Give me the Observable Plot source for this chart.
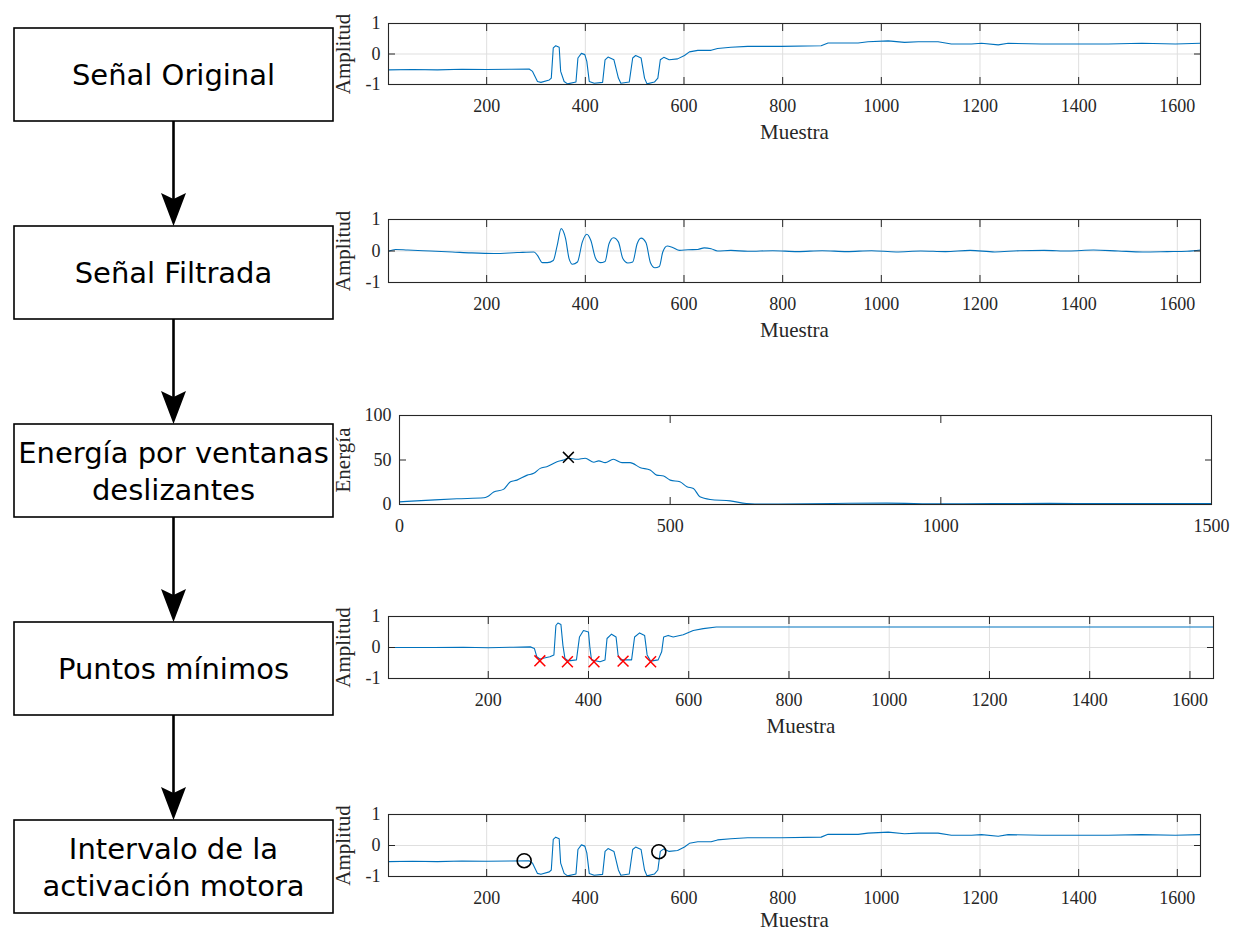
<!DOCTYPE html>
<html>
<head>
<meta charset="utf-8">
<script src="https://cdn.jsdelivr.net/npm/d3@7"></script>
<script src="https://cdn.jsdelivr.net/npm/@observablehq/plot@0.6"></script>
<style>
  body { margin: 0; background: #fff; }
  #root { position: relative; width: 1239px; height: 932px; overflow: hidden; background: #fff; }
  .chart { position: absolute; left: 330px; }
  #flow { position: absolute; left: 0; top: 0; }
</style>
</head>
<body>
<div id="root"></div>
<script>
// ---------- data ----------
const stepLabels = [
  ["Señal Original"],
  ["Señal Filtrada"],
  ["Energía por ventanas", "deslizantes"],
  ["Puntos mínimos"],
  ["Intervalo de la", "activación motora"]
];
const sampleTicks = [200, 400, 600, 800, 1000, 1200, 1400, 1600];
const amplitudeTicks = [-1, 0, 1];
const energyXTicks = [0, 500, 1000, 1500];
const energyYTicks = [0, 50, 100];

// [muestra, amplitud]
const originalSignal = [
  [1,-0.52],[50,-0.51],[100,-0.52],[150,-0.5],[200,-0.51],[250,-0.5],[286,-0.49],[293,-0.57],
  [303,-0.9],[310,-0.93],[327,-0.85],[331,-0.79],[335,0.2],[340,0.27],[347,0.22],[350,-0.57],
  [357,-0.9],[364,-0.98],[381,-0.92],[385,-0.13],[392,0.02],[399,-0.02],[403,-0.24],[408,-0.9],
  [418,-0.96],[435,-0.93],[440,-0.19],[446,-0.1],[458,-0.19],[467,-0.79],[472,-0.96],[489,-0.92],
  [496,-0.13],[502,-0.05],[513,-0.13],[520,-0.79],[525,-0.98],[540,-0.92],[547,-0.79],[552,-0.19],
  [559,-0.11],[570,-0.19],[587,-0.16],[601,-0.05],[611,0.07],[628,0.12],[655,0.12],[668,0.18],
  [695,0.22],[729,0.25],[797,0.25],[878,0.27],[892,0.36],[953,0.36],[973,0.4],[1014,0.43],
  [1047,0.38],[1075,0.4],[1115,0.4],[1142,0.33],[1183,0.33],[1203,0.35],[1237,0.3],[1257,0.35],
  [1325,0.33],[1392,0.33],[1460,0.33],[1528,0.35],[1596,0.33],[1647,0.35]
];

const filteredSignal = [
  [2,0],[15,0.05],[40,0.03],[86,0],[130,-0.03],[168,-0.06],[215,-0.08],[262,-0.05],[296,-0.03],
  [303,-0.14],[313,-0.37],[323,-0.37],[335,-0.3],[343,0.18],[351,0.71],[360,0.39],[367,-0.24],
  [374,-0.42],[384,-0.35],[394,0.29],[403,0.53],[411,0.34],[421,-0.24],[430,-0.37],[440,-0.33],
  [448,0.23],[457,0.42],[467,0.29],[476,-0.24],[486,-0.38],[496,-0.35],[505,0.23],[513,0.41],
  [523,0.26],[532,-0.37],[541,-0.53],[550,-0.49],[557,-0.03],[566,0.16],[577,0.11],[591,0.02],
  [608,0.04],[628,0.05],[641,0.1],[655,0.07],[668,0],[695,0.02],[729,-0.01],[780,0.01],[830,-0.02],
  [880,0.01],[930,-0.02],[980,0.01],[1030,-0.03],[1080,0],[1130,-0.02],[1180,0.02],[1230,-0.03],
  [1280,0.01],[1330,0.02],[1380,0],[1430,0.03],[1480,0],[1530,-0.03],[1580,-0.02],[1620,-0.01],[1647,0.03]
];

const energySignal = [
  [0,3],[57,4.9],[106,6.4],[156,7.5],[162,8.6],[174,14],[192,17],[205,25.5],[217,27.4],[236,33],
  [248,35],[260,40.6],[272,42.5],[291,48],[303,50],[312,52],[328,50.8],[343,52],[359,47.4],[368,49],
  [380,47],[395,50.8],[411,47],[426,47],[445,41.4],[463,38.7],[475,33],[488,32],[500,27.4],[518,25.5],
  [531,20],[543,18],[555,8.6],[574,5.6],[611,4.1],[641,1.1],[672,0.4],[700,0.5],[800,1.2],[900,1.5],
  [1000,0.8],[1100,1.0],[1200,1.3],[1300,1.0],[1400,1.0],[1500,1.2]
];
const energyPeak = [[312, 53]];

const minimaSignal = [
  [1,0],[91,0],[150,0.01],[200,-0.01],[250,0.01],[284,0.02],[292,-0.03],[297,-0.3],[303,-0.37],
  [323,-0.3],[331,-0.24],[335,0.71],[339,0.79],[345,0.74],[349,0.07],[353,-0.35],[360,-0.43],
  [376,-0.4],[382,0.34],[390,0.55],[400,0.5],[403,-0.03],[406,-0.4],[423,-0.46],[433,-0.4],
  [437,0.29],[446,0.43],[455,0.34],[459,-0.24],[464,-0.4],[486,-0.4],[492,0.34],[502,0.47],
  [512,0.39],[517,-0.24],[524,-0.44],[539,-0.4],[546,-0.14],[550,0.34],[559,0.39],[569,0.34],
  [589,0.41],[609,0.55],[629,0.61],[655,0.66],[661,0.66],[1647,0.66]
];
const minimaPoints = [[303,-0.43],[358,-0.46],[411,-0.46],[469,-0.44],[524,-0.46]];

const activationPoints = [[276,-0.49],[549,-0.2]];

// ---------- styles ----------
const ink = "#262626";
const lineBlue = "#0072BD";
const gridGray = "#dfdfdf";
const serif = "'Liberation Serif','Times New Roman',serif";
const root = document.getElementById("root");

// ---------- flowchart ----------
const box = {left: 14, width: 319, height: 93, firstTop: 28, step: 198};
const flow = d3.select(root).append("svg").attr("id", "flow")
  .attr("width", 345).attr("height", 932);
const cx = box.left + box.width / 2;
stepLabels.forEach((lines, i) => {
  const top = box.firstTop + i * box.step;
  flow.append("rect").attr("x", box.left).attr("y", top)
    .attr("width", box.width).attr("height", box.height)
    .attr("fill", "#fff").attr("stroke", "#000").attr("stroke-width", 1.6);
  const mid = top + box.height / 2;
  const t = flow.append("text").attr("text-anchor", "middle")
    .attr("font-family", "'DejaVu Sans', Verdana, sans-serif").attr("font-size", 29).attr("fill", "#000");
  if (lines.length === 1) {
    t.append("tspan").attr("x", cx).attr("y", mid + 10.5).text(lines[0]);
  } else {
    t.append("tspan").attr("x", cx).attr("y", mid - 8).text(lines[0]);
    t.append("tspan").attr("x", cx).attr("y", mid + 29).text(lines[1]);
  }
  if (i < stepLabels.length - 1) {
    const y0 = top + box.height, tip = box.firstTop + (i + 1) * box.step;
    flow.append("line").attr("x1", cx).attr("x2", cx).attr("y1", y0).attr("y2", tip - 24)
      .attr("stroke", "#000").attr("stroke-width", 2.6);
    flow.append("path")
      .attr("d", `M${cx - 12.5},${tip - 33} L${cx},${tip - 27} L${cx + 12.5},${tip - 33} L${cx},${tip} Z`)
      .attr("fill", "#000");
  }
});

// ---------- charts ----------
function makeChart(cfg) {
  const marks = [];
  if (cfg.grid) {
    marks.push(Plot.gridX(cfg.xTicks, {stroke: gridGray, strokeOpacity: 1}));
    marks.push(Plot.gridY(cfg.yTicks, {stroke: gridGray, strokeOpacity: 1}));
  }
  marks.push(Plot.line(cfg.series, {x: d => d[0], y: d => d[1], stroke: lineBlue, strokeWidth: 1.1, curve: cfg.curve || "linear"}));
  (cfg.extra || []).forEach(m => marks.push(m));
  marks.push(Plot.frame({stroke: ink, strokeWidth: 1.1}));
  marks.push(Plot.axisX(cfg.xTicks, {anchor: "bottom", tickSize: 0, tickPadding: 15, tickFormat: d => String(d), label: null, fontSize: 18, fill: ink}));
  marks.push(Plot.axisX(cfg.xTicks, {anchor: "bottom", tickSize: 7, dy: -7, fill: "none", stroke: ink, label: null}));
  marks.push(Plot.axisX(cfg.xTicks, {anchor: "top", tickSize: 7, dy: 7, fill: "none", stroke: ink, label: null}));
  marks.push(Plot.axisY(cfg.yTicks, {anchor: "left", tickSize: 0, tickPadding: 8, tickFormat: d => String(d), label: null, fontSize: 18, fill: ink}));
  marks.push(Plot.axisY(cfg.yTicks, {anchor: "left", tickSize: 7, dx: 7, fill: "none", stroke: ink, label: null}));
  marks.push(Plot.axisY(cfg.yTicks, {anchor: "right", tickSize: 7, dx: -7, fill: "none", stroke: ink, label: null}));
  if (cfg.xLabel) marks.push(Plot.text([cfg.xLabel], {frameAnchor: "bottom", dy: cfg.xLabelDy || 48, lineAnchor: "middle", textAnchor: "middle", text: d => d, fontSize: 21, fill: ink}));
  marks.push(Plot.text([cfg.yLabel], {frameAnchor: "left", dx: cfg.yLabelDx, rotate: -90, lineAnchor: "middle", textAnchor: "middle", text: d => d, fontSize: 21, fill: ink}));

  const svg = Plot.plot({
    width: 909,
    height: cfg.marginTop + cfg.plotHeight + cfg.marginBottom,
    marginLeft: cfg.marginLeft, marginRight: cfg.marginRight,
    marginTop: cfg.marginTop, marginBottom: cfg.marginBottom,
    x: {domain: cfg.xDomain, axis: null},
    y: {domain: cfg.yDomain, axis: null},
    style: {fontFamily: serif, fontSize: "18px", color: ink, background: "transparent", overflow: "visible"},
    marks
  });
  const div = document.createElement("div");
  div.className = "chart";
  div.style.top = cfg.top + "px";
  div.appendChild(svg);
  root.appendChild(div);
}

const sampleDomain = [1, 1647];

makeChart({
  top: 8, marginTop: 15, plotHeight: 61, marginBottom: 58, marginLeft: 58, marginRight: 39, yLabelDx: -45,
  series: originalSignal, xDomain: sampleDomain, yDomain: [-1, 1],
  xTicks: sampleTicks, yTicks: amplitudeTicks, grid: true, xLabel: "Muestra", yLabel: "Amplitud"
});

makeChart({
  top: 204, marginTop: 15, plotHeight: 63, marginBottom: 58, marginLeft: 58, marginRight: 39, yLabelDx: -45,
  series: filteredSignal, curve: "monotone-x", xDomain: sampleDomain, yDomain: [-1, 1],
  xTicks: sampleTicks, yTicks: amplitudeTicks, grid: true, xLabel: "Muestra", yLabel: "Amplitud"
});

makeChart({
  top: 400, marginTop: 15, plotHeight: 89, marginBottom: 40, marginLeft: 69, marginRight: 28, yLabelDx: -56,
  series: energySignal, curve: "monotone-x", xDomain: [0, 1500], yDomain: [0, 100],
  xTicks: energyXTicks, yTicks: energyYTicks, grid: false, xLabel: null, yLabel: "Energía",
  extra: [Plot.dot(energyPeak, {x: d => d[0], y: d => d[1], symbol: "times", r: 5, stroke: "#000", strokeWidth: 1.5})]
});

makeChart({
  top: 601, marginTop: 15, plotHeight: 62, marginBottom: 58, marginLeft: 58, marginRight: 26, yLabelDx: -45,
  series: minimaSignal, xDomain: sampleDomain, yDomain: [-1, 1],
  xTicks: sampleTicks, yTicks: amplitudeTicks, grid: true, xLabel: "Muestra", yLabel: "Amplitud",
  extra: [Plot.dot(minimaPoints, {x: d => d[0], y: d => d[1], symbol: "times", r: 5, stroke: "#ff0000", strokeWidth: 1.5})]
});

makeChart({
  top: 799, marginTop: 15, plotHeight: 62, marginBottom: 56, marginLeft: 58, marginRight: 39, yLabelDx: -45, xLabelDy: 44,
  series: originalSignal, xDomain: sampleDomain, yDomain: [-1, 1],
  xTicks: sampleTicks, yTicks: amplitudeTicks, grid: true, xLabel: "Muestra", yLabel: "Amplitud",
  extra: [Plot.dot(activationPoints, {x: d => d[0], y: d => d[1], r: 7, stroke: "#000", strokeWidth: 1.6, fill: "none"})]
});
</script>
</body>
</html>
